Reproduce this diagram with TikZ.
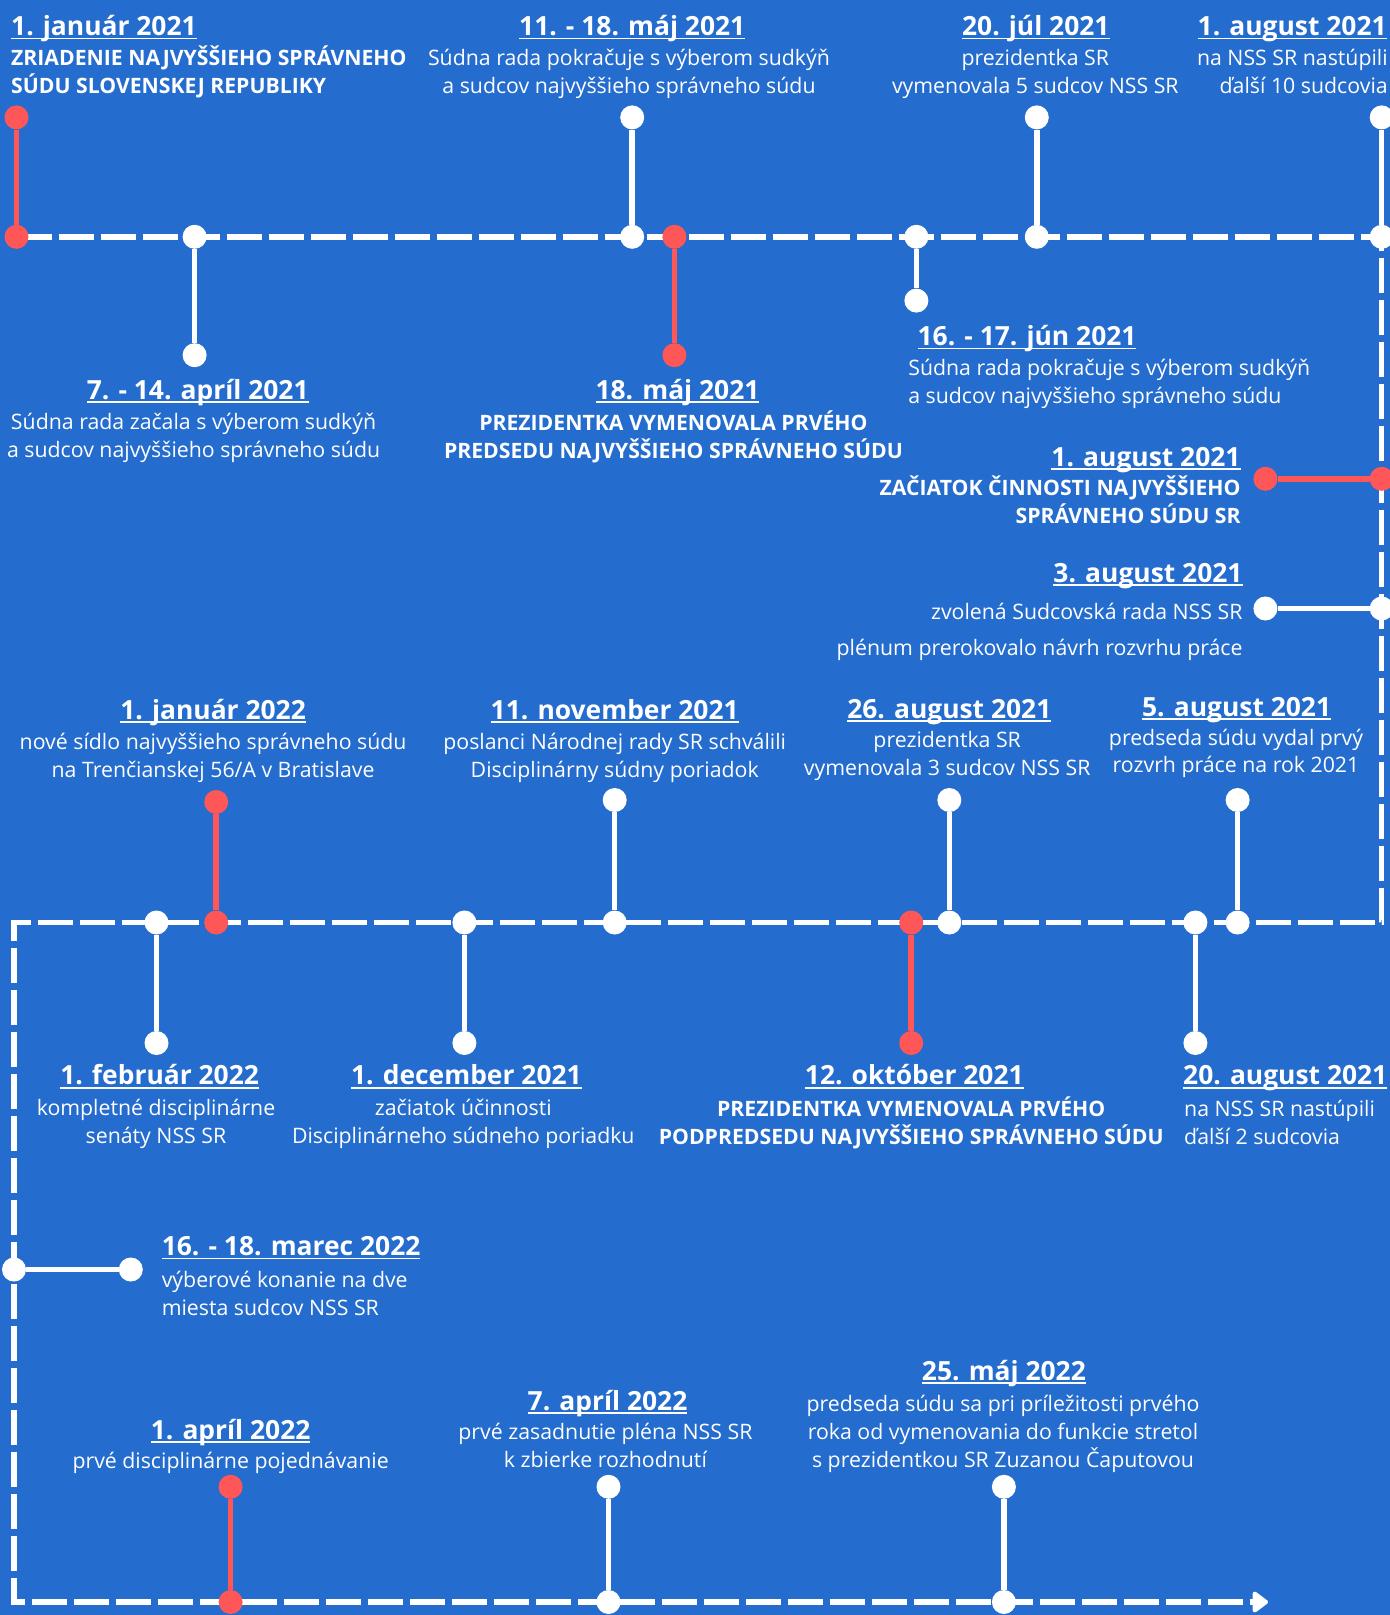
\documentclass[tikz,border=0pt]{standalone}
\usepackage{fontspec}
\setmainfont{Open Sans}
\usetikzlibrary{arrows.meta}
\definecolor{bg}{RGB}{36,108,206}
\definecolor{rd}{RGB}{255,87,87}
\newcommand\myul[1]{\setbox0\hbox{#1}\rlap{\rule[-3.6pt]{\wd0}{1.8pt}}\box0}
\newcommand\fs{\rule{0pt}{19pt}}
\tikzset{
 ttl/.style={font=\fontsize{26.4}{30}\selectfont\bfseries, text=white, inner sep=0pt, anchor=base},
 bdy/.style={font=\fontsize{21.3}{28}\selectfont, text=white, inner sep=0pt, align=center, anchor=north},
 bdyb/.style={bdy, font=\fontsize{21.2}{28}\selectfont\bfseries},
 dotw/.style={circle, fill=white, inner sep=0pt, minimum size=24pt},
 dotr/.style={circle, fill=rd, inner sep=0pt, minimum size=24pt},
 stemw/.style={draw=white, line width=5.5pt},
 stemr/.style={draw=rd, line width=5.5pt},
 tline/.style={draw=white, line width=5.5pt, dash pattern=on 35pt off 7pt}
}
\begin{document}
\begin{tikzpicture}[x=1pt,y=-1pt]
\fill[bg] (0,0) rectangle (1390,1615);
\useasboundingbox (0,0) rectangle (1390,1615);
% timeline
\coordinate (t0) at (16.5,236.8);
\coordinate (t1) at (1381.7,236.8);
\coordinate (t2) at (1381.7,922.5);
\coordinate (t3) at (14,922.5);
\coordinate (t4) at (14,1602);
\coordinate (t5) at (1268,1602);
\draw[tline, -{Triangle[length=17pt,width=24pt,round]}] (t0) -- (t1) -- (t2) -- (t3) -- (t4) -- (t5);

% E1
\node[dotr] (e1a) at (16.5,117.4) {};
\node[dotr] (e1b) at (16.5,236.8) {};
\draw[stemr] (e1a) -- (e1b);
\node[ttl, anchor=base west] (e1t) at (11,35.7) {\myul{1. január 2021}};
\node[bdyb, anchor=north west, align=left] (e1d) at (11,46) {\fs ZRIADENIE NAJVYŠŠIEHO SPRÁVNEHO\\SÚDU SLOVENSKEJ REPUBLIKY};
% E2
\node[dotw] (e2a) at (194.6,236.8) {};
\node[dotw] (e2b) at (194.6,355.2) {};
\draw[stemw] (e2a) -- (e2b);
\node[ttl] (e2t) at (197.7,399.2) {\myul{7. - 14. apríl 2021}};
\node[bdy] (e2d) at (193.6,410.6) {\fs Súdna rada začala s výberom sudkýň\\a sudcov najvyššieho správneho súdu};
% E3
\node[dotw] (e3a) at (632.2,117.4) {};
\node[dotw] (e3b) at (632.2,236.8) {};
\draw[stemw] (e3a) -- (e3b);
\node[ttl] (e3t) at (632.2,35.7) {\myul{11. - 18. máj 2021}};
\node[bdy] (e3d) at (629,46) {\fs Súdna rada pokračuje s výberom sudkýň\\a sudcov najvyššieho správneho súdu};
% E4
\node[dotr] (e4a) at (674.4,236.8) {};
\node[dotr] (e4b) at (674.4,355.2) {};
\draw[stemr] (e4a) -- (e4b);
\node[ttl] (e4t) at (677.5,399.2) {\myul{18. máj 2021}};
\node[bdyb] (e4d) at (673.4,410.6) {\fs PREZIDENTKA VYMENOVALA PRVÉHO\\PREDSEDU NAJVYŠŠIEHO SPRÁVNEHO SÚDU};
% E5
\node[dotw] (e5a) at (916.4,236.8) {};
\node[dotw] (e5b) at (916.4,300.6) {};
\draw[stemw] (e5a) -- (e5b);
\node[ttl, anchor=base west] (e5t) at (917.4,345.7) {\myul{16. - 17. jún 2021}};
\node[bdy, anchor=north west, align=left] (e5d) at (908.1,356.1) {\fs Súdna rada pokračuje s výberom sudkýň\\a sudcov najvyššieho správneho súdu};
% E6
\node[dotw] (e6a) at (1036.8,117.4) {};
\node[dotw] (e6b) at (1036.8,236.8) {};
\draw[stemw] (e6a) -- (e6b);
\node[ttl] (e6t) at (1035.8,35.7) {\myul{20. júl 2021}};
\node[bdy] (e6d) at (1035.3,46) {\fs prezidentka SR\\vymenovala 5 sudcov NSS SR};
% E7
\node[dotw] (e7a) at (1381.7,117.4) {};
\node[dotw] (e7b) at (1381.7,236.8) {};
\draw[stemw] (e7a) -- (e7b);
\node[ttl, anchor=base east] (e7t) at (1386.9,35.7) {\myul{1. august 2021}};
\node[bdy, anchor=north east, align=right] (e7d) at (1387.9,46) {\fs na NSS SR nastúpili\\ďalší 10 sudcovia};
% E8
\node[dotr] (e8a) at (1265.4,478.8) {};
\node[dotr] (e8b) at (1381.7,478.8) {};
\draw[stemr] (e8a) -- (e8b);
\node[ttl, anchor=base east] (e8t) at (1240.7,466.1) {\myul{1. august 2021}};
\node[bdyb, anchor=north east, align=right] (e8d) at (1240.7,475.5) {\fs ZAČIATOK ČINNOSTI NAJVYŠŠIEHO\\SPRÁVNEHO SÚDU SR};
% E9
\node[dotw] (e9a) at (1265.4,608.5) {};
\node[dotw] (e9b) at (1381.7,608.5) {};
\draw[stemw] (e9a) -- (e9b);
\node[ttl, anchor=base east] (e9t) at (1242.7,582.5) {\myul{3. august 2021}};
\node[bdy, anchor=north east, align=right] (e9d) at (1242.7,600) {\fs zvolená Sudcovská rada NSS SR\\[8pt]plénum prerokovalo návrh rozvrhu práce};
% E10
\node[dotw] (e10a) at (1237.6,800) {};
\node[dotw] (e10b) at (1237.6,922.5) {};
\draw[stemw] (e10a) -- (e10b);
\node[ttl] (e10t) at (1236.6,716.3) {\myul{5. august 2021}};
\node[bdy] (e10d) at (1236,726.7) {\fs predseda súdu vydal prvý\\[-1pt]rozvrh práce na rok 2021};
% E11
\node[dotw] (e11a) at (949.3,800) {};
\node[dotw] (e11b) at (949.3,922.5) {};
\draw[stemw] (e11a) -- (e11b);
\node[ttl] (e11t) at (949.3,718.4) {\myul{26. august 2021}};
\node[bdy] (e11d) at (947.2,727.8) {\fs prezidentka SR\\vymenovala 3 sudcov NSS SR};
% E12
\node[dotw] (e12a) at (614.7,800) {};
\node[dotw] (e12b) at (614.7,922.5) {};
\draw[stemw] (e12a) -- (e12b);
\node[ttl] (e12t) at (614.7,719.4) {\myul{11. november 2021}};
\node[bdy] (e12d) at (614.7,729.8) {\fs poslanci Národnej rady SR schválili\\Disciplinárny súdny poriadok};
% E13
\node[dotr] (e13a) at (216.2,802) {};
\node[dotr] (e13b) at (216.2,922.5) {};
\draw[stemr] (e13a) -- (e13b);
\node[ttl] (e13t) at (213.1,719.4) {\myul{1. január 2022}};
\node[bdy] (e13d) at (213.1,729.8) {\fs nové sídlo najvyššieho správneho súdu\\na Trenčianskej 56/A v Bratislave};
% E14
\node[dotw] (e14a) at (1195.4,922.5) {};
\node[dotw] (e14b) at (1195.4,1043) {};
\draw[stemw] (e14a) -- (e14b);
\node[ttl, anchor=base west] (e14t) at (1183,1084.9) {\myul{20. august 2021}};
\node[bdy, anchor=north west, align=left] (e14d) at (1184,1097.4) {\fs na NSS SR nastúpili\\ďalší 2 sudcovia};
% E15
\node[dotr] (e15a) at (911.2,922.5) {};
\node[dotr] (e15b) at (911.2,1043) {};
\draw[stemr] (e15a) -- (e15b);
\node[ttl] (e15t) at (914.3,1084.9) {\myul{12. október 2021}};
\node[bdyb] (e15d) at (911.2,1096.4) {\fs PREZIDENTKA VYMENOVALA PRVÉHO\\PODPREDSEDU NAJVYŠŠIEHO SPRÁVNEHO SÚDU};
% E16
\node[dotw] (e16a) at (464.4,922.5) {};
\node[dotw] (e16b) at (464.4,1043) {};
\draw[stemw] (e16a) -- (e16b);
\node[ttl] (e16t) at (466.4,1084.9) {\myul{1. december 2021}};
\node[bdy] (e16d) at (463.3,1096.4) {\fs začiatok účinnosti\\Disciplinárneho súdneho poriadku};
% E17
\node[dotw] (e17a) at (156.5,922.5) {};
\node[dotw] (e17b) at (156.5,1043) {};
\draw[stemw] (e17a) -- (e17b);
\node[ttl] (e17t) at (159.6,1084.9) {\myul{1. február 2022}};
\node[bdy] (e17d) at (156,1096.4) {\fs kompletné disciplinárne\\senáty NSS SR};
% E18
\node[dotw] (e18a) at (14,1269.5) {};
\node[dotw] (e18b) at (130.8,1269.5) {};
\draw[stemw] (e18a) -- (e18b);
\node[ttl, anchor=base west] (e18t) at (161.6,1255.8) {\myul{16. - 18. marec 2022}};
\node[bdy, anchor=north west, align=left] (e18d) at (161.6,1268.3) {\fs výberové konanie na dve\\miesta sudcov NSS SR};
% E19
\node[dotr] (e19a) at (230.6,1486.8) {};
\node[dotr] (e19b) at (230.6,1602) {};
\draw[stemr] (e19a) -- (e19b);
\node[ttl] (e19t) at (230.6,1439.1) {\myul{1. apríl 2022}};
\node[bdy] (e19d) at (230.6,1449.5) {\fs prvé disciplinárne pojednávanie};
% E20
\node[dotw] (e20a) at (608.5,1486.8) {};
\node[dotw] (e20b) at (608.5,1602) {};
\draw[stemw] (e20a) -- (e20b);
\node[ttl] (e20t) at (607.5,1410.3) {\myul{7. apríl 2022}};
\node[bdy] (e20d) at (605.4,1420.7) {\fs prvé zasadnutie pléna NSS SR\\k zbierke rozhodnutí};
% E21
\node[dotw] (e21a) at (1003.9,1486.8) {};
\node[dotw] (e21b) at (1003.9,1602) {};
\draw[stemw] (e21a) -- (e21b);
\node[ttl] (e21t) at (1003.9,1380.4) {\myul{25. máj 2022}};
\node[bdy] (e21d) at (1003,1391.8) {\fs predseda súdu sa pri príležitosti prvého\\roka od vymenovania do funkcie stretol\\s prezidentkou SR Zuzanou Čaputovou};
\end{tikzpicture}
\end{document}
